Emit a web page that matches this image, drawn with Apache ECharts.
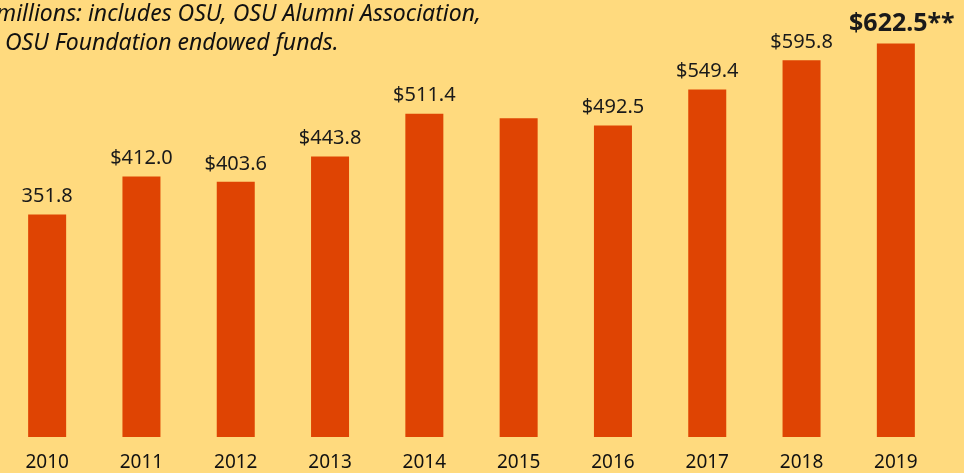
<!DOCTYPE html>
<html><head><meta charset="utf-8">
<script src="https://cdn.jsdelivr.net/npm/echarts@6/dist/echarts.min.js"></script>
<style>html,body{margin:0;padding:0;background:#FFDA7E;}#c{width:964px;height:473px;}</style>
</head><body><div id="c"></div>
<script>
const categories = ['2010','2011','2012','2013','2014','2015','2016','2017','2018','2019'];
const values = [351.8, 412.0, 403.6, 443.8, 511.4, 504.0, 492.5, 549.4, 595.8, 622.5];
const labels = ['351.8','$412.0','$403.6','$443.8','$511.4','','$492.5','$549.4','$595.8','$622.5**'];
const titleLines = ['millions: includes OSU, OSU Alumni Association,', 'OSU Foundation endowed funds.'];

const chart = echarts.init(document.getElementById('c'));
const data = values.map((v, i) => {
  const d = { value: v, label: { formatter: labels[i] } };
  if (i === values.length - 1) {
    d.label.fontSize = 25; d.label.fontWeight = 'bold'; d.label.offset = [6, 1];
  }
  return d;
});
chart.setOption({
  backgroundColor: '#FFDA7E',
  animation: false,
  grid: { left: 0, right: 21, top: 26, bottom: 36 },
  xAxis: {
    type: 'category', data: categories,
    axisLine: { show: false }, axisTick: { show: false },
    axisLabel: { color: '#111', fontSize: 19, margin: 16, fontFamily: 'Noto Sans' }
  },
  yAxis: { type: 'value', min: 0, max: 650, show: false, splitLine: { show: false } },
  series: [{
    type: 'bar', data: data, barWidth: 38,
    itemStyle: { color: '#DF4403' },
    label: { show: true, position: 'top', distance: 8, color: '#1a1a1a', fontSize: 20, fontFamily: 'Noto Sans' }
  }],
  graphic: [
    { type: 'text', left: -4, top: 3, style: { text: titleLines[0], font: 'italic 23px "Noto Sans"', fill: '#111' } },
    { type: 'text', left: 5, top: 32, style: { text: titleLines[1], font: 'italic 23px "Noto Sans"', fill: '#111' } }
  ]
});
</script></body></html>
